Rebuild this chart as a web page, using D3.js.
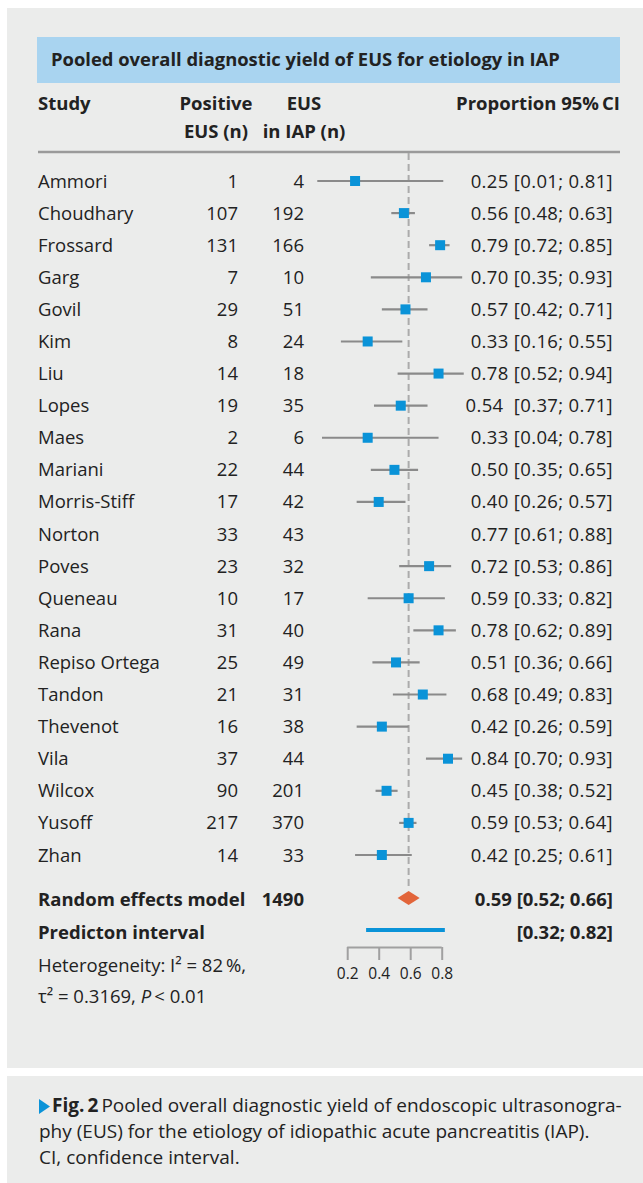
<!DOCTYPE html>
<html>
<head>
<meta charset="utf-8">
<script src="https://cdn.jsdelivr.net/npm/d3@7"></script>
<style>
  body { margin: 0; background: #fff; }
  svg text { font-family: "Open Sans", "Noto Sans", sans-serif; fill: #222; }
</style>
</head>
<body>
<div id="chart"></div>
<script>
const studies = ['Ammori', 'Choudhary', 'Frossard', 'Garg', 'Govil', 'Kim', 'Liu', 'Lopes', 'Maes',
    'Mariani', 'Morris-Stiff', 'Norton', 'Poves', 'Queneau', 'Rana', 'Repiso Ortega', 'Tandon',
    'Thevenot', 'Vila', 'Wilcox', 'Yusoff', 'Zhan'];
const positives = [1, 107, 131, 7, 29, 8, 14, 19, 2, 22, 17, 33, 23, 10, 31, 25, 21, 16, 37, 90, 217, 14];
const totals = [4, 192, 166, 10, 51, 24, 18, 35, 6, 44, 42, 43, 32, 17, 40, 49, 31, 38, 44, 201, 370, 33];
const proportion = [0.25, 0.56, 0.79, 0.70, 0.57, 0.33, 0.78, 0.54, 0.33, 0.50, 0.40, 0.77, 0.72, 0.59,
    0.78, 0.51, 0.68, 0.42, 0.84, 0.45, 0.59, 0.42];
const lower = [0.01, 0.48, 0.72, 0.35, 0.42, 0.16, 0.52, 0.37, 0.04, 0.35, 0.26, 0.61, 0.53, 0.33,
    0.62, 0.36, 0.49, 0.26, 0.70, 0.38, 0.53, 0.25];
const upper = [0.81, 0.63, 0.85, 0.93, 0.71, 0.55, 0.94, 0.71, 0.78, 0.65, 0.57, 0.88, 0.86, 0.82,
    0.89, 0.66, 0.83, 0.59, 0.93, 0.52, 0.64, 0.61];
// Norton has no marker in the figure
const plotted = studies.map(s => s !== 'Norton');

const pooled = [0.59, 0.52, 0.66];   // estimate, lower, upper
const prediction = [0.32, 0.82];
const pooledN = 1490;
const tickValues = [0.2, 0.4, 0.6, 0.8];

const width = 643;
const height = 1183;
const fs = 18.5;

const svg = d3.select('#chart')
    .append('svg')
    .attr('width', width)
    .attr('height', height);

// panels
svg.append('rect').attr('x', 7).attr('y', 8).attr('width', width - 7).attr('height', 1060).attr('fill', '#ebeceb');
svg.append('rect').attr('x', 7).attr('y', 1076).attr('width', width - 7).attr('height', height - 1076).attr('fill', '#ebeceb');

// title band
svg.append('rect').attr('x', 37).attr('y', 37).attr('width', 583).attr('height', 46).attr('fill', '#a9d4f0');
svg.append('text').attr('x', 51).attr('y', 66)
    .attr('font-size', 18.4).attr('font-weight', 700)
    .text('Pooled overall diagnostic yield of EUS for etiology in IAP');

// column headers
const hdr = svg.append('g').attr('font-size', fs).attr('font-weight', 700);
hdr.append('text').attr('x', 38).attr('y', 110).text('Study');
hdr.append('text').attr('x', 216).attr('y', 110).attr('text-anchor', 'middle').text('Positive');
hdr.append('text').attr('x', 216).attr('y', 138).attr('text-anchor', 'middle').text('EUS (n)');
hdr.append('text').attr('x', 304).attr('y', 110).attr('text-anchor', 'middle').text('EUS');
hdr.append('text').attr('x', 304).attr('y', 138).attr('text-anchor', 'middle').text('in IAP (n)');
hdr.append('text').attr('x', 620).attr('y', 110).attr('text-anchor', 'end').text('Proportion 95%\u2009CI');

svg.append('line').attr('x1', 38).attr('x2', 620).attr('y1', 152).attr('y2', 152)
    .attr('stroke', '#9a9a9a').attr('stroke-width', 2.5);

const x = d3.scaleLinear()
    .domain([0, 1])
    .range([315.7, 473.2]);

const y = d3.scalePoint()
    .domain(studies)
    .range([181, 855]);

// reference line at pooled estimate
svg.append('line')
    .attr('x1', x(pooled[0])).attr('x2', x(pooled[0]))
    .attr('y1', 153).attr('y2', 890)
    .attr('stroke', '#ababab').attr('stroke-width', 2)
    .attr('stroke-dasharray', '7,4');

const fmt = d3.format('.2f');
const rows = studies.map((s, i) => ({
    study: s, pos: positives[i], n: totals[i], p: proportion[i], lo: lower[i], hi: upper[i], show: plotted[i]
}));

const dy = 6.5;
const txt = svg.append('g').attr('font-size', fs);
txt.selectAll('.name').data(rows).join('text')
    .attr('x', 38).attr('y', d => y(d.study) + dy).text(d => d.study);
txt.selectAll('.pos').data(rows).join('text')
    .attr('x', 238).attr('y', d => y(d.study) + dy).attr('text-anchor', 'end').text(d => d.pos);
txt.selectAll('.tot').data(rows).join('text')
    .attr('x', 304).attr('y', d => y(d.study) + dy).attr('text-anchor', 'end').text(d => d.n);
txt.selectAll('.ci').data(rows).join('text')
    .attr('x', 613).attr('y', d => y(d.study) + dy).attr('text-anchor', 'end')
    .attr('letter-spacing', 0.35)
    .style('white-space', 'pre')
    .text(d => `${fmt(d.p)}${d.study === 'Lopes' ? '  ' : ' '}[${fmt(d.lo)}; ${fmt(d.hi)}]`);

const marks = svg.append('g');
marks.selectAll('line').data(rows.filter(d => d.show)).join('line')
    .attr('x1', d => x(d.lo)).attr('x2', d => x(d.hi))
    .attr('y1', d => y(d.study)).attr('y2', d => y(d.study))
    .attr('stroke', '#8a8a8a').attr('stroke-width', 2.2);
marks.selectAll('rect').data(rows.filter(d => d.show)).join('rect')
    .attr('x', d => x(d.p) - 5).attr('y', d => y(d.study) - 5)
    .attr('width', 10).attr('height', 10)
    .attr('fill', '#0a93d8');

// pooled estimate
const yPool = 898;
svg.append('path')
    .attr('d', `M${x(pooled[1])},${yPool} L${x(pooled[0])},${yPool - 7} L${x(pooled[2])},${yPool} L${x(pooled[0])},${yPool + 7} Z`)
    .attr('fill', '#e2653a');

const yPred = 930;
svg.append('line')
    .attr('x1', x(prediction[0])).attr('x2', x(prediction[1]))
    .attr('y1', yPred).attr('y2', yPred)
    .attr('stroke', '#0a93d8').attr('stroke-width', 4);

const bold = svg.append('g').attr('font-size', fs).attr('font-weight', 700);
bold.append('text').attr('x', 38).attr('y', 906).text('Random effects model');
bold.append('text').attr('x', 304).attr('y', 906).attr('text-anchor', 'end').text(pooledN);
bold.append('text').attr('x', 613).attr('y', 906).attr('text-anchor', 'end')
    .text(`${fmt(pooled[0])} [${fmt(pooled[1])}; ${fmt(pooled[2])}]`);
bold.append('text').attr('x', 38).attr('y', 939).text('Predicton interval');
bold.append('text').attr('x', 613).attr('y', 939).attr('text-anchor', 'end')
    .text(`[${fmt(prediction[0])}; ${fmt(prediction[1])}]`);

const het = svg.append('g').attr('font-size', fs);
het.append('text').attr('x', 38).attr('y', 972).text('Heterogeneity: I² = 82\u2009%,');
const t2 = het.append('text').attr('x', 38).attr('y', 1003);
t2.append('tspan').text('τ² = 0.3169, ');
t2.append('tspan').attr('font-style', 'italic').text('P');
t2.append('tspan').text('\u2009< 0.01');

// axis
const axisY = 947;
const axis = svg.append('g')
    .attr('transform', `translate(0,${axisY})`)
    .call(d3.axisBottom(x).tickValues(tickValues).tickSize(13).tickSizeOuter(0).tickPadding(8)
        .tickFormat(d3.format('.1f')));
axis.select('.domain').remove();
axis.selectAll('line').attr('stroke', '#a0a0a0').attr('stroke-width', 2);
axis.selectAll('text').attr('font-size', 15.5).attr('font-family', '"Open Sans", sans-serif').attr('fill', '#333');
axis.append('line')
    .attr('x1', x(tickValues[0])).attr('x2', x(tickValues[tickValues.length - 1]))
    .attr('y1', 0.5).attr('y2', 0.5)
    .attr('stroke', '#a0a0a0').attr('stroke-width', 2);

// caption
const cap = svg.append('g').attr('font-size', 19);
cap.append('path').attr('d', 'M39,1099 L39,1114 L50,1106.5 Z').attr('fill', '#0a93d8');
const c1 = cap.append('text').attr('x', 52).attr('y', 1112).attr('fill', '#333');
c1.append('tspan').attr('font-weight', 700).text('Fig.\u20092');
c1.append('tspan').attr('dx', 3).text('Pooled overall diagnostic yield of endoscopic ultrasonogra-');
cap.append('text').attr('x', 39).attr('y', 1138).attr('fill', '#333').text('phy (EUS) for the etiology of idiopathic acute pancreatitis (IAP).');
cap.append('text').attr('x', 39).attr('y', 1164).attr('fill', '#333').text('CI, confidence interval.');
</script>
</body>
</html>
